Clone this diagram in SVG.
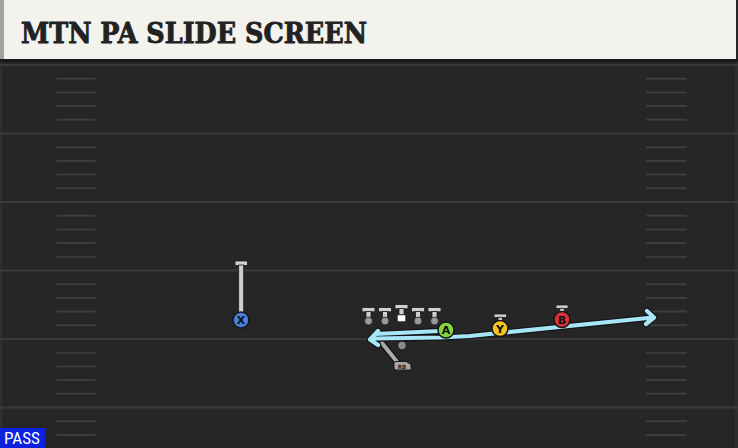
<svg xmlns="http://www.w3.org/2000/svg" width="738" height="448" viewBox="0 0 738 448">
<defs>
<style>
.yard{stroke:#3a3a3a;stroke-width:2}
.hash{stroke:#3d3d3d;stroke-width:2;stroke-linecap:round}
.stem{fill:#cfcfcf;stroke:#1a1a1a;stroke-width:0.8}
.foot{fill:#9a9a9a;stroke:#1a1a1a;stroke-width:0.8}
.plr{stroke:#151515;stroke-width:1.5}
.lbl{font-family:"DejaVu Sans",sans-serif;font-weight:bold;font-size:11px;fill:#111;text-anchor:middle}
.routeO{fill:none;stroke:#141414;stroke-width:6.5;stroke-linejoin:round;stroke-linecap:round}
.routeI{fill:none;stroke:#a6e6f6;stroke-width:4.2;stroke-linejoin:round;stroke-linecap:round}
</style>
</defs>
<rect width="738" height="448" fill="#262626"/>
<rect x="0" y="59" width="738" height="3" fill="#191919"/>
<rect x="0" y="62" width="2" height="386" fill="#303030"/>
<rect x="735" y="62" width="3" height="386" fill="#2e2e2e"/>
<g id="field">
<line class="yard" x1="0" y1="65" x2="738" y2="65"/>
<line class="yard" x1="0" y1="133.5" x2="738" y2="133.5"/>
<line class="yard" x1="0" y1="202" x2="738" y2="202"/>
<line class="yard" x1="0" y1="270.5" x2="738" y2="270.5"/>
<line class="yard" x1="0" y1="339" x2="738" y2="339"/>
<line class="yard" x1="0" y1="407.5" x2="738" y2="407.5"/>
<path class="hash" d="M57 78.7H95M57 92.4H95M57 106.1H95M57 119.8H95M57 147.2H95M57 160.9H95M57 174.6H95M57 188.3H95M57 215.7H95M57 229.4H95M57 243.1H95M57 256.8H95M57 284.2H95M57 297.9H95M57 311.6H95M57 325.3H95M57 352.7H95M57 366.4H95M57 380.1H95M57 393.8H95M57 421.2H95M57 434.9H95"/>
<path class="hash" d="M647 78.7H686M647 92.4H686M647 106.1H686M647 119.8H686M647 147.2H686M647 160.9H686M647 174.6H686M647 188.3H686M647 215.7H686M647 229.4H686M647 243.1H686M647 256.8H686M647 284.2H686M647 297.9H686M647 311.6H686M647 325.3H686M647 352.7H686M647 366.4H686M647 380.1H686M647 393.8H686M647 421.2H686M647 434.9H686"/>
</g>
<g id="header">
<rect x="0" y="0" width="736" height="59" fill="#f4f2ed"/>
<rect x="0" y="0" width="4" height="59" fill="#a3a3a3"/>
<text x="21" y="43" font-family="'DejaVu Serif',serif" font-weight="bold" font-size="28" fill="#222" stroke="#222" stroke-width="0.9" textLength="346" lengthAdjust="spacingAndGlyphs">MTN PA SLIDE SCREEN</text>
</g>
<g id="connectors">
<path class="routeO" d="M398 363 L382 343"/>
<path d="M398 363 L382 343" stroke="#a9a9a9" stroke-width="4" stroke-linecap="round"/>
<path class="routeO" d="M440 331 L375 334 M378 331 L370 339.5 L378 345 M374 338.5 L440 337.5 L470 336 L653 317.5 M647 311 L654 317.5 L646 324"/>
<path class="routeI" d="M440 331 L375 334 M378 331 L370 339.5 L378 345 M374 338.5 L440 337.5 L470 336 L653 317.5 M647 311 L654 317.5 L646 324"/>
</g>
<g id="X">
<rect class="stem" x="235" y="261" width="12.5" height="4.5"/>
<rect class="stem" x="238.7" y="265" width="5" height="48"/>
<circle class="plr" cx="241" cy="320" r="8" fill="#4a7fe0"/>
<text class="lbl" x="241" y="324">X</text>
</g>
<g id="line">
<g id="LT"><rect class="stem" x="362" y="307.5" width="13" height="4.3"/><rect class="stem" x="366" y="311.5" width="5" height="9"/><circle class="foot" cx="368.5" cy="321" r="4"/></g>
<g id="LG"><rect class="stem" x="378.5" y="307.5" width="13" height="4.3"/><rect class="stem" x="382.5" y="311.5" width="5" height="9"/><circle class="foot" cx="385" cy="321" r="4"/></g>
<g id="C"><rect class="stem" x="395" y="304.5" width="13" height="4.3"/><rect class="stem" x="399" y="308.5" width="5" height="6.5"/><rect x="397.2" y="314.8" width="8.6" height="7" fill="#fff" stroke="#1a1a1a" stroke-width="0.8"/></g>
<g id="RG"><rect class="stem" x="411.5" y="307.5" width="13" height="4.3"/><rect class="stem" x="415.5" y="311.5" width="5" height="9"/><circle class="foot" cx="418" cy="321" r="4"/></g>
<g id="RT"><rect class="stem" x="428" y="307.5" width="13" height="4.3"/><rect class="stem" x="432" y="311.5" width="5" height="9"/><circle class="foot" cx="434.5" cy="321" r="4"/></g>
</g>
<g id="QB"><circle cx="402" cy="345.5" r="4.2" fill="#8a8a8a" stroke="#1a1a1a" stroke-width="0.8"/></g>
<g id="RB">
<path d="M396 361.5 H406 L411 364.5 V370 H396 Q394 370 394 368 V363.5 Q394 361.5 396 361.5 Z" fill="#a8a8a8" stroke="#1a1a1a" stroke-width="1"/>
<text x="402" y="368.5" font-family="'DejaVu Sans Condensed','DejaVu Sans',sans-serif" font-weight="bold" font-size="6" fill="#222" text-anchor="middle">RB</text>
</g>
<g id="A">
<circle class="plr" cx="446" cy="330" r="8" fill="#84d43e"/>
<text class="lbl" x="446" y="334">A</text>
</g>
<g id="Y">
<rect class="stem" x="494" y="314" width="12.5" height="3.5"/>
<rect class="stem" x="498" y="317.3" width="4.5" height="3.5"/>
<circle class="plr" cx="500" cy="328.5" r="8" fill="#f2c61c"/>
<text class="lbl" x="500" y="332.5">Y</text>
</g>
<g id="B">
<rect class="stem" x="556" y="305" width="12" height="3.5"/>
<rect class="stem" x="559.8" y="308.3" width="4.5" height="3.5"/>
<circle class="plr" cx="562" cy="319.5" r="8" fill="#dc3038"/>
<text class="lbl" x="562" y="323.5">B</text>
</g>
<g id="pass">
<rect x="0" y="428" width="45" height="20" fill="#0c22df"/>
<text x="4" y="444" font-family="'Roboto Condensed',Roboto,'Liberation Sans',sans-serif" font-size="16" fill="#fff" textLength="36" lengthAdjust="spacingAndGlyphs">PASS</text>
</g>
</svg>
